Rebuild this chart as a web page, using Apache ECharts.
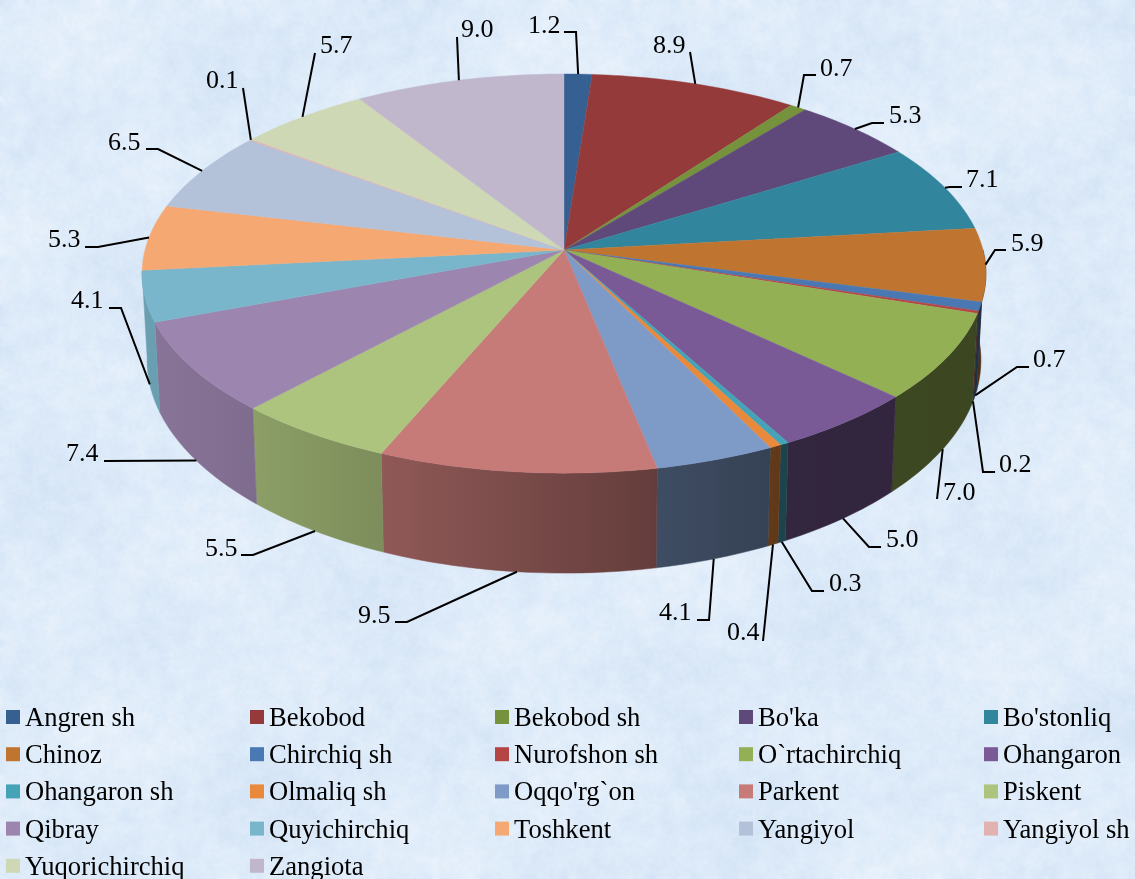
<!DOCTYPE html>
<html>
<head>
<meta charset="utf-8">
<style>
  html, body { margin: 0; padding: 0; }
  #main { width: 1135px; height: 879px; }
</style>
<script src="https://cdn.jsdelivr.net/npm/echarts@6/dist/echarts.min.js"></script>
</head>
<body>
<div id="main"></div>
<script>
const districts = ["Angren sh", "Bekobod", "Bekobod sh", "Bo'ka", "Bo'stonliq", "Chinoz", "Chirchiq sh", "Nurofshon sh", "O`rtachirchiq", "Ohangaron", "Ohangaron sh", "Olmaliq sh", "Oqqo'rg`on", "Parkent", "Piskent", "Qibray", "Quyichirchiq", "Toshkent", "Yangiyol", "Yangiyol sh", "Yuqorichirchiq", "Zangiota"];
const shares = [1.2, 8.9, 0.7, 5.3, 7.1, 5.9, 0.7, 0.2, 7.0, 5.0, 0.3, 0.4, 4.1, 9.5, 5.5, 7.4, 4.1, 5.3, 6.5, 0.1, 5.7, 9.0];
const colors = ["#376092", "#953a3a", "#76923c", "#5f497a", "#31859c", "#bf7430", "#4a78b3", "#b54545", "#94b054", "#7a5a96", "#45a3b8", "#e8893c", "#7e9bc8", "#c77b78", "#adc47f", "#9c85ae", "#79b6cb", "#f5a872", "#b3c1d9", "#e2b2b0", "#ced8b4", "#c1b7cd"];

// label text left edge / baseline, and the bends of each leader line
const labelX = [528, 653, 820, 889, 966, 1011, 1033, 999, 943, 886, 829, 727, 659, 358, 205, 66, 71, 48, 108, 206, 320, 461];
const labelY = [33, 53, 76, 123, 187, 251, 367, 472, 500, 547, 591, 640, 620, 623, 556, 461, 308, 247, 150, 88, 53, 37];
const leaderBends = [
  [[576, 32], [564, 32]], [[690, 52]], [[804, 75], [816, 75]], [[872, 123], [884, 123]],
  [[950, 187], [962, 187]], [[995, 250], [1006, 250]], [[1017, 367], [1029, 367]], [[983, 472], [995, 472]],
  [[937, 499]], [[869, 547], [881, 547]], [[812, 591], [824, 591]], [[763, 641]],
  [[709, 620], [697, 620]], [[407, 622], [395, 622]], [[253, 555], [241, 555]], [[104, 461]],
  [[121, 308], [109, 308]], [[98, 247], [85, 247]], [[158, 149], [146, 149]], [[243, 88]],
  [[315, 53]], [[457, 37]]
];

const topDisk = { cx: 564, cy: 250, a: 419, b: 196.8 };
const bottomDisk = { cx: 564, cy: 335, a: 414, b: 210 };
const perspective = 0.118;

// the side wall only shows between these angles
const wallFrom = Math.PI / 2;
const wallTo = (264 / 180) * Math.PI;

// how dark the side wall gets going left to right
const shadeX = [140, 160, 257, 383, 655, 770, 1000];
const shadeK = [0.88, 0.87, 0.81, 0.72, 0.5, 0.42, 0.4];

const legendLeft = [6, 250, 495, 739, 984];

const total = shares.reduce((a, b) => a + b, 0);

function project(disk, angle) {
  const s = 1 / (1 + perspective * Math.cos(angle));
  return [disk.cx + disk.a * Math.sin(angle) * s, disk.cy - disk.b * Math.cos(angle) * s];
}

function arc(disk, from, to) {
  const steps = Math.max(2, Math.ceil((to - from) / 0.02));
  const points = [];
  for (let i = 0; i <= steps; i++) {
    points.push(project(disk, from + ((to - from) * i) / steps));
  }
  return points;
}

function shadeAt(x) {
  for (let i = 1; i < shadeX.length; i++) {
    if (x <= shadeX[i]) {
      const t = (x - shadeX[i - 1]) / (shadeX[i] - shadeX[i - 1]);
      return shadeK[i - 1] + (shadeK[i] - shadeK[i - 1]) * Math.max(t, 0);
    }
  }
  return shadeK[shadeK.length - 1];
}

function darken(hex, k) {
  const n = parseInt(hex.slice(1), 16);
  const r = Math.round(((n >> 16) & 255) * k);
  const g = Math.round(((n >> 8) & 255) * k);
  const b = Math.round((n & 255) * k);
  return `rgb(${r},${g},${b})`;
}

function wallFill(color, points) {
  const xs = points.map((p) => p[0]);
  const x0 = Math.min(...xs);
  const x1 = Math.max(Math.max(...xs), x0 + 1);
  const stops = [];
  for (let i = 0; i <= 6; i++) {
    stops.push({ offset: i / 6, color: darken(color, shadeAt(x0 + ((x1 - x0) * i) / 6)) });
  }
  return new echarts.graphic.LinearGradient(x0, 0, x1, 0, stops, true);
}

function sliceRenderer(index) {
  const before = shares.slice(0, index).reduce((a, b) => a + b, 0);
  const from = (before / total) * Math.PI * 2;
  const to = ((before + shares[index]) / total) * Math.PI * 2;
  const mid = (from + to) / 2;
  const color = colors[index];

  return function () {
    const topArc = arc(topDisk, from, to);
    const anchor = project(Math.cos(mid) < -0.1 ? bottomDisk : topDisk, mid);
    const children = [
      {
        type: "polygon",
        z2: 2,
        shape: { points: [[topDisk.cx, topDisk.cy]].concat(topArc) },
        style: { fill: color, stroke: color, lineWidth: 0.4 },
      },
      {
        type: "polyline",
        z2: 3,
        shape: { points: [anchor].concat(leaderBends[index]) },
        style: { fill: null, stroke: "#000", lineWidth: 2 },
      },
      {
        type: "text",
        z2: 4,
        style: {
          x: labelX[index],
          y: labelY[index] - 6.5,
          text: shares[index].toFixed(1),
          fill: "#000",
          font: '26px "Liberation Serif"',
          verticalAlign: "middle",
        },
      },
    ];
    const wallStart = Math.max(from, wallFrom);
    const wallEnd = Math.min(to, wallTo);
    if (wallEnd > wallStart) {
      const wall = arc(topDisk, wallStart, wallEnd).concat(arc(bottomDisk, wallStart, wallEnd).reverse());
      const fill = wallFill(color, wall);
      children.push({
        type: "polygon",
        z2: 1,
        shape: { points: wall },
        style: { fill: fill, stroke: fill, lineWidth: 0.5 },
      });
    }
    return { type: "group", children: children };
  };
}

function marbleTexture() {
  const canvas = document.createElement("canvas");
  canvas.width = 1135;
  canvas.height = 879;
  const ctx = canvas.getContext("2d");
  const hash = (x, y) => {
    const s = Math.sin(x * 12.9898 + y * 78.233) * 43758.5453;
    return s - Math.floor(s);
  };
  const paint = (step, alpha, amount) => {
    for (let y = 0; y < 879; y += step) {
      for (let x = 0; x < 1135; x += step) {
        const waves = Math.sin(x / 71 + y / 113) + Math.sin(x / 37 - y / 53) + Math.sin(y / 29 + x / 97);
        const v = (hash(x, y) - 0.5) * amount + waves * 0.06;
        ctx.fillStyle = `rgba(${Math.round(222 + v * 34)},${Math.round(235 + v * 22)},${Math.round(249 + v * 10)},${alpha})`;
        ctx.fillRect(x, y, step, step);
      }
    }
  };
  paint(8, 1, 0.6);
  // soften, then a finer grain on top
  ctx.filter = "blur(4px)";
  ctx.drawImage(canvas, 0, 0);
  ctx.filter = "none";
  paint(3, 0.3, 0.7);
  ctx.filter = "blur(1px)";
  ctx.drawImage(canvas, 0, 0);
  ctx.filter = "none";
  return canvas;
}

function legendColumns() {
  return legendLeft.map((left, col) => ({
    orient: "vertical",
    left: left,
    top: 705.5,
    height: 220,
    padding: 0,
    // square sits in the top of an 18px box so it rides a bit above the text centre
    icon: "path://M0 0H14V14H0Z M0 18L0 18",
    itemWidth: 14,
    itemHeight: 18,
    itemGap: 10.2,
    selectedMode: false,
    textStyle: {
      fontFamily: "Liberation Serif",
      fontSize: 26.6,
      lineHeight: 22,
      color: "#000",
    },
    data: districts.filter((_, i) => i % 5 === col),
  }));
}

function pieOption() {
  return {
    backgroundColor: { image: marbleTexture(), repeat: "repeat" },
    animation: false,
    legend: legendColumns(),
    series: districts.map((name, i) => ({
      type: "custom",
      name: name,
      coordinateSystem: "none",
      itemStyle: { color: colors[i] },
      silent: true,
      data: [shares[i]],
      renderItem: sliceRenderer(i),
    })),
  };
}

function onLoad() {
  const chart = echarts.init(document.getElementById("main"));
  chart.setOption(pieOption());
}

addEventListener("load", onLoad);
</script>
</body>
</html>
